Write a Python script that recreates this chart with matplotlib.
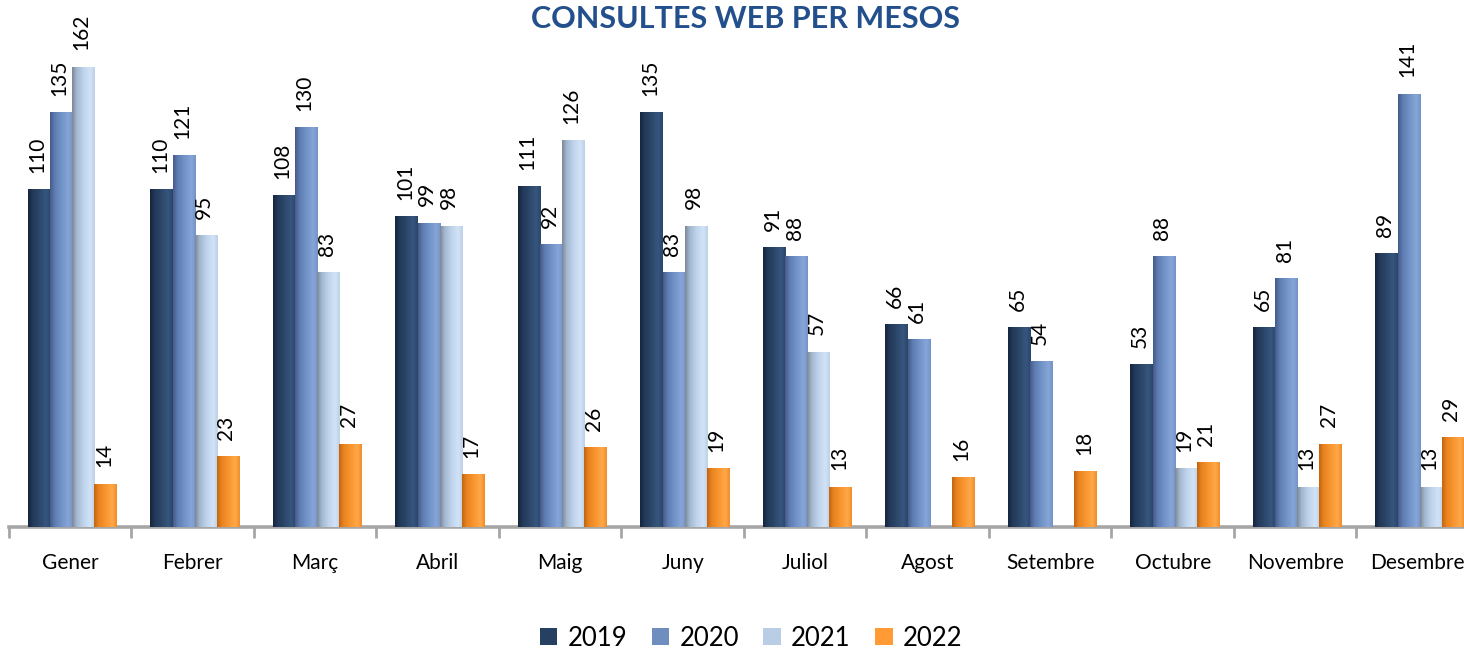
import numpy as np
import matplotlib
matplotlib.use("Agg")
import matplotlib.pyplot as plt
from matplotlib.colors import LinearSegmentedColormap, to_rgb
from matplotlib.patches import Patch

plt.rcParams['font.family'] = ['Lato', 'DejaVu Sans']

months = ["Gener", "Febrer", "Març", "Abril", "Maig", "Juny", "Juliol",
          "Agost", "Setembre", "Octubre", "Novembre", "Desembre"]
years = ["2019", "2020", "2021", "2022"]

v2019 = [110, 110, 108, 101, 111, 135, 91, 66, 65, 53, 65, 89]
v2020 = [135, 121, 130, 99, 92, 83, 88, 61, 54, 88, 81, 141]
v2021 = [162, 95, 83, 98, 126, 98, 57, None, None, 19, 13, 13]
v2022 = [14, 23, 27, 17, 26, 19, 13, 16, 18, 21, 27, 29]

series = [v2019, v2020, v2021, v2022]
legend_colors = ["#254061", "#6f8dbf", "#b9cde5", "#ff9a35"]
# cylinder shading: dark edge, body, highlight, body
shades = [
    ["#14243a", "#22395a", "#2c4769", "#36567f", "#2b4566"],
    ["#44598a", "#5e7cb0", "#7193c8", "#86a5d8", "#7393c6"],
    ["#7b8696", "#a2b6ce", "#bfd3ec", "#d2e3f7", "#bccfe6"],
    ["#c2640f", "#e8831f", "#f8952f", "#ffa848", "#f08d2c"],
]
ymax = 150

fig = plt.figure(figsize=(14.64, 6.53), dpi=100)
ax = fig.add_axes([9 / 1464, 126 / 653, 12 * 122.5 / 1464, 460.5 / 653])

x = np.arange(len(months))
w = 0.18
shift = 0.015
grad = np.linspace(0, 1, 256).reshape(1, -1)

for k, vals in enumerate(series):
    arr = np.array([np.nan if v is None else v for v in vals], dtype=float)
    pos = x + (k - 1.5) * w + shift
    bars = ax.bar(pos, np.nan_to_num(arr), width=w, color=legend_colors[k],
                  linewidth=0, zorder=2)
    cmap = LinearSegmentedColormap.from_list(
        f"shade{k}", list(zip([0.0, 0.2, 0.5, 0.8, 1.0],
                              [to_rgb(c) for c in shades[k]])))
    for rect, v in zip(bars, arr):
        if np.isnan(v):
            rect.set_visible(False)
            continue
        x0, bw, h = rect.get_x(), rect.get_width(), rect.get_height()
        top = min(h, ymax)
        im = ax.imshow(grad, cmap=cmap, aspect='auto',
                       extent=[x0, x0 + bw, 0, top], zorder=3)
        im.set_clip_on(True)
        ax.annotate(f"{int(v)}", xy=(x0 + bw / 2, top),
                    xytext=(-1, 12), textcoords="offset points",
                    rotation=90, ha="center", va="bottom",
                    fontsize=15, color="#000000", annotation_clip=False)

ax.set_xlim(-0.5, len(months) - 0.5)
ax.set_ylim(0, ymax)

for s in ["top", "right", "left"]:
    ax.spines[s].set_visible(False)
ax.spines["bottom"].set_color("#a6a6a6")
ax.spines["bottom"].set_linewidth(2.6)
ax.spines["bottom"].set_zorder(1)
ax.set_yticks([])

ax.set_xticks(x)
ax.set_xticklabels(months, fontsize=15)
ax.tick_params(axis="x", which="major", length=0, pad=19)
ax.set_xticks(np.arange(-0.5, len(months) + 0.5, 1), minor=True)
ax.tick_params(axis="x", which="minor", length=8, width=2, color="#a6a6a6")

fig.text(0.509, 1 - 19 / 653, "CONSULTES WEB PER MESOS", ha="center",
         va="center", fontsize=22, fontweight="bold", color="#23508c")

handles = [Patch(facecolor=c, edgecolor="none") for c in legend_colors]
fig.legend(handles, years, loc="center", bbox_to_anchor=(751 / 1464, 1 - 638 / 653),
           ncol=4, frameon=False, fontsize=18.5, handlelength=0.68,
           handleheight=0.68, handletextpad=0.4, columnspacing=0.95,
           borderpad=0)

fig.savefig("out.png", dpi=100)
